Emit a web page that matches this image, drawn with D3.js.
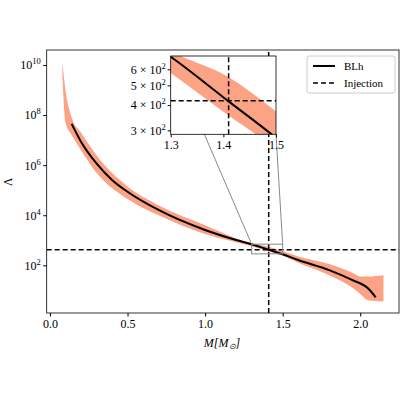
<!DOCTYPE html><html><head><script src="https://cdn.jsdelivr.net/npm/d3@7"></script>
<style>body{margin:0;background:#fff}text{font-family:"Liberation Serif",serif}</style></head><body><svg id="c" width="400" height="400"></svg>
<script>
const lineM=[0.14,0.2,0.3,0.4,0.5,0.7,1.0,1.2,1.3,1.41,1.5,1.6,1.8,1.95,2.05,2.1];
const lineL=[7.65,6.94,6.07,5.41,4.94,4.21,3.41,3.01,2.84,2.62,2.44,2.21,1.81,1.41,1.08,0.72];
const bandM=[0.08,0.1,0.14,0.2,0.3,0.5,0.7,1.0,1.3,1.41,1.5,1.6,1.8,1.95,2.0,2.05,2.15];
const bandHi=[10.1,9.0,7.9,7.3,6.4,5.15,4.4,3.6,2.87,2.74,2.57,2.35,2.05,1.7,1.55,1.55,1.6];
const bandLo=[9.6,7.7,7.2,6.6,5.7,4.65,4.0,3.25,2.76,2.55,2.38,2.1,1.6,1.1,0.85,0.6,0.55];
const xTicks=[0,0.5,1.0,1.5,2.0], yTicks=[2,4,6,8,10];
const injM=1.41, injL=420;
const svg=d3.select("#c");
const x=d3.scaleLinear().domain([-0.021,2.25]).range([46.7,399]);
const y=d3.scaleLinear().domain([0.095,10.6]).range([313,50]); // log10 space
const band=bandM.map((m,i)=>({m,h:bandHi[i],l:bandLo[i]}));
const ln=lineM.map((m,i)=>({m,v:lineL[i]}));
function draw(g,x,y){
 g.append("path").datum(band).attr("fill","#fca285").attr("d",d3.area().x(d=>x(d.m)).y0(d=>y(d.l)).y1(d=>y(d.h)).curve(d3.curveMonotoneX));
 g.append("path").datum(ln).attr("fill","none").attr("stroke","#000").attr("stroke-width",2).attr("d",d3.line().x(d=>x(d.m)).y(d=>y(d.v)).curve(d3.curveMonotoneX));
 const [x0,x1]=x.range(),[y0,y1]=y.range();
 g.append("line").attr("x1",x(injM)).attr("x2",x(injM)).attr("y1",y0).attr("y2",y1).attr("stroke","#000").attr("stroke-width",1.5).attr("stroke-dasharray","5,3");
 g.append("line").attr("y1",y(Math.log10(injL))).attr("y2",y(Math.log10(injL))).attr("x1",x0).attr("x2",x1).attr("stroke","#000").attr("stroke-width",1.5).attr("stroke-dasharray","5,3");
}
svg.append("clipPath").attr("id","mc").append("rect").attr("x",46.7).attr("y",50).attr("width",352.3).attr("height",263);
const mg=svg.append("g").attr("clip-path","url(#mc)");
draw(mg,x,y);
// zoom rect
const lo=Math.log10(287),hi=Math.log10(698);
svg.append("rect").attr("x",x(1.3)).attr("y",y(hi)).attr("width",x(1.5)-x(1.3)).attr("height",y(lo)-y(hi)).attr("fill","none").attr("stroke","#888").attr("stroke-width",1);
svg.append("rect").attr("x",46.7).attr("y",50).attr("width",352.3).attr("height",263).attr("fill","none").attr("stroke","#000").attr("stroke-width",0.8);
const gx=svg.append("g").attr("transform","translate(0,313)").call(d3.axisBottom(x).tickValues(xTicks).tickFormat(d3.format(".1f")).tickSize(3.5).tickSizeOuter(0));
const gy=svg.append("g").attr("transform","translate(46.7,0)").call(d3.axisLeft(y).tickValues(yTicks).tickFormat(()=>"").tickSize(3.5).tickSizeOuter(0));
gy.selectAll(".tick").each(function(d){d3.select(this).append("text").attr("x",-6).attr("dy","0.32em").attr("text-anchor","end").attr("fill","#000").attr("font-size",12).html(`10<tspan dy="-5" font-size="8.5">${d}</tspan>`);});
[gx,gy].forEach(g=>{g.select(".domain").remove();g.selectAll("text").attr("font-size",12);});
svg.append("text").attr("x",222).attr("y",347).attr("text-anchor","middle").attr("font-size",12).attr("font-style","italic").html('M[M<tspan font-size="8" dy="2">⊙</tspan><tspan dy="-2">]</tspan>');
svg.append("text").attr("transform","translate(12,182) rotate(-90)").attr("text-anchor","middle").attr("font-size",12).text("Λ");
// inset
const ix=d3.scaleLinear().domain([1.3,1.5]).range([170.7,276]);
const iy=d3.scaleLinear().domain([Math.log10(287),Math.log10(698)]).range([134.3,56]);
svg.append("line").attr("x1",x(1.3)).attr("y1",y(hi)).attr("x2",170.7).attr("y2",56).attr("stroke","#888");
svg.append("line").attr("x1",x(1.5)).attr("y1",y(hi)).attr("x2",276).attr("y2",134.3).attr("stroke","#888");
svg.append("rect").attr("x",170.7).attr("y",56).attr("width",105.3).attr("height",78.3).attr("fill","#fff");
svg.append("clipPath").attr("id","ic").append("rect").attr("x",170.7).attr("y",56).attr("width",105.3).attr("height",78.3);
const ig=svg.append("g").attr("clip-path","url(#ic)");
draw(ig,ix,iy);
svg.append("rect").attr("x",170.7).attr("y",56).attr("width",105.3).attr("height",78.3).attr("fill","none").attr("stroke","#000").attr("stroke-width",0.8);
const iyT=[3,4,5,6];
svg.append("g").attr("transform","translate(0,134.3)").call(d3.axisBottom(ix).tickValues([1.3,1.4,1.5]).tickFormat(d3.format(".1f")).tickSize(3).tickSizeOuter(0)).call(g=>{g.select(".domain").remove();g.selectAll("text").attr("font-size",12);});
const giy=svg.append("g").attr("transform","translate(170.7,0)").call(d3.axisLeft(iy).tickValues(iyT.map(v=>Math.log10(v*100))).tickFormat(()=>"").tickSize(3).tickSizeOuter(0));
giy.select(".domain").remove();
giy.selectAll(".tick").each(function(d,i){d3.select(this).append("text").attr("x",-5).attr("dy","0.32em").attr("text-anchor","end").attr("fill","#000").attr("font-size",12).html(`${iyT[i]} × 10<tspan dy="-5" font-size="8.5">2</tspan>`);});
// legend
const lg=svg.append("g");
lg.append("rect").attr("x",307).attr("y",56).attr("width",88).attr("height",37).attr("rx",2).attr("fill","#fff").attr("stroke","#ccc");
lg.append("line").attr("x1",313).attr("x2",335).attr("y1",66).attr("y2",66).attr("stroke","#000").attr("stroke-width",2);
lg.append("line").attr("x1",313).attr("x2",335).attr("y1",83).attr("y2",83).attr("stroke","#000").attr("stroke-width",1.5).attr("stroke-dasharray","5,3");
lg.append("text").attr("x",344).attr("y",70).attr("font-size",11).text("BLh");
lg.append("text").attr("x",344).attr("y",87).attr("font-size",11).text("Injection");
</script></body></html>
